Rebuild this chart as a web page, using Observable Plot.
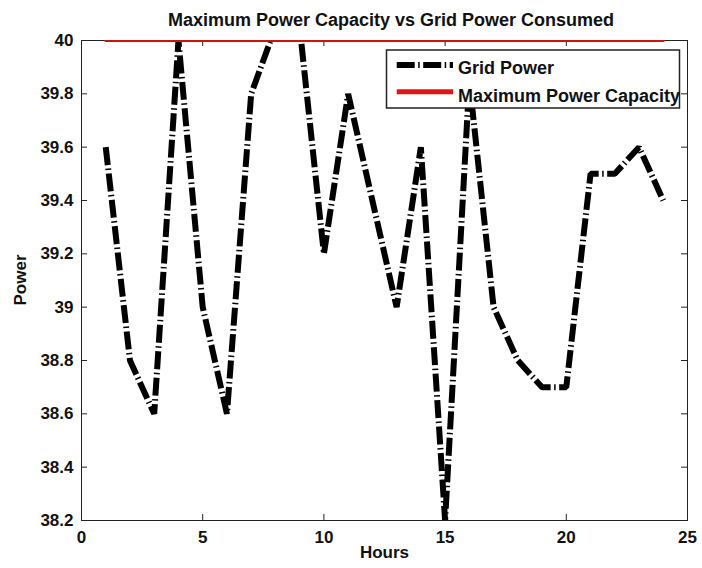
<!DOCTYPE html>
<html>
<head>
<meta charset="utf-8">
<script src="https://cdn.jsdelivr.net/npm/d3@7"></script>
<script src="https://cdn.jsdelivr.net/npm/@observablehq/plot@0.6"></script>
<style>
  html, body { margin: 0; padding: 0; background: #fff; }
  #wrap { position: relative; width: 702px; height: 568px; font-family: "Liberation Sans", Arial, sans-serif; }
  #title { position: absolute; top: 11px; left: 391px; transform: translateX(-50%); white-space: nowrap;
           font-size: 18px; line-height: 18px; font-weight: bold; color: #111; }
  #chart { position: absolute; top: 30px; left: 0; }
  #legend { position: absolute; left: 385px; top: 49px; overflow: visible; }
</style>
</head>
<body>
<div id="wrap">
  <div id="title">Maximum Power Capacity vs Grid Power Consumed</div>
  <div id="chart"></div>
  <svg id="legend" width="297" height="61"></svg>
</div>
<script>
// ---- data ----
const hours = [1, 2, 3, 4, 5, 6, 7, 8, 9, 10, 11, 12, 13, 14, 15, 16, 17, 18, 19, 20, 21, 22, 23, 24];
const gridPower = [39.6, 38.8, 38.6, 40.0, 39.0, 38.6, 39.8, 40.05, 40.05, 39.2, 39.8, 39.4,
                   39.0, 39.6, 38.2, 39.85, 39.0, 38.8, 38.7, 38.7, 39.5, 39.5, 39.6, 39.4];
const maxCapacity = [40, 40, 40, 40, 40, 40, 40, 40, 40, 40, 40, 40,
                     40, 40, 40, 40, 40, 40, 40, 40, 40, 40, 40, 40];
const xTicks = [0, 5, 10, 15, 20, 25];
const yTicks = [38.2, 38.4, 38.6, 38.8, 39, 39.2, 39.4, 39.6, 39.8, 40];
const seriesNames = ["Grid Power", "Maximum Power Capacity"];

const gridData = hours.map((h, i) => ({hour: h, power: gridPower[i]}));
const capData = hours.map((h, i) => ({hour: h, power: maxCapacity[i]}));

const W = 702, H = 538;
const mT = 10, mB = 48, mL = 81, mR = 15;
const innerW = W - mL - mR, innerH = H - mT - mB;
const tickLen = 6;
const font = {fontSize: 17, fontWeight: "bold", fill: "#111"};

const chart = Plot.plot({
  width: W, height: H,
  marginTop: mT, marginBottom: mB, marginLeft: mL, marginRight: mR,
  style: {fontFamily: "'Liberation Sans', Arial, sans-serif", background: "#fff", overflow: "visible"},
  x: {domain: [0, 25]},
  y: {domain: [38.2, 40]},
  marks: [
    Plot.frame({stroke: "#222", strokeWidth: 1}),
    Plot.axisX(xTicks, {tickSize: 0, tickPadding: 10, label: null, tickFormat: d => String(d), ...font}),
    Plot.axisY(yTicks, {tickSize: 0, tickPadding: 8, label: null, tickFormat: d => String(d), ...font}),
    // inward ticks (bottom/top/left/right)
    Plot.tickX(xTicks.slice(1, -1), {x: d => d, insetTop: innerH - tickLen, stroke: "#222"}),
    Plot.tickX(xTicks.slice(1, -1), {x: d => d, insetBottom: innerH - tickLen, stroke: "#222"}),
    Plot.tickY(yTicks.slice(1, -1), {y: d => d, insetRight: innerW - tickLen, stroke: "#222"}),
    Plot.tickY(yTicks.slice(1, -1), {y: d => d, insetLeft: innerW - tickLen, stroke: "#222"}),
    Plot.line(gridData, {x: "hour", y: "power", stroke: "#000", strokeWidth: 6,
      strokeDasharray: "18,3.5,1.5,3.5", strokeLinecap: "butt", strokeLinejoin: "miter", clip: true}),
    Plot.line(capData, {x: "hour", y: "power", stroke: "#cc1218", strokeWidth: 3, clip: true}),
    Plot.text(["Hours"], {frameAnchor: "bottom", dy: 37, text: d => d, ...font}),
    Plot.text(["Power"], {frameAnchor: "left", dx: -61, dy: 25, rotate: -90, text: d => d, ...font})
  ]
});
document.getElementById("chart").appendChild(chart);

// ---- legend ----
const lg = d3.select("#legend");
lg.append("rect").attr("x", 1.5).attr("y", 1).attr("width", 293).attr("height", 58)
  .attr("fill", "#fff").attr("stroke", "#222").attr("stroke-width", 1.5);
lg.append("line").attr("x1", 11.7).attr("x2", 68).attr("y1", 16).attr("y2", 16)
  .attr("stroke", "#000").attr("stroke-width", 6).attr("stroke-dasharray", "18,3.5,1.5,3.5");
lg.append("line").attr("x1", 11.7).attr("x2", 68).attr("y1", 42.7).attr("y2", 42.7)
  .attr("stroke", "#e0141c").attr("stroke-width", 5);
lg.selectAll("text.lbl").data(seriesNames).join("text")
  .attr("class", "lbl")
  .attr("x", 73).attr("y", (d, i) => i === 0 ? 24.5 : 52.7)
  .attr("font-family", "'Liberation Sans', Arial, sans-serif")
  .attr("font-size", 18).attr("font-weight", "bold").attr("fill", "#111")
  .text(d => d);
</script>
</body>
</html>
